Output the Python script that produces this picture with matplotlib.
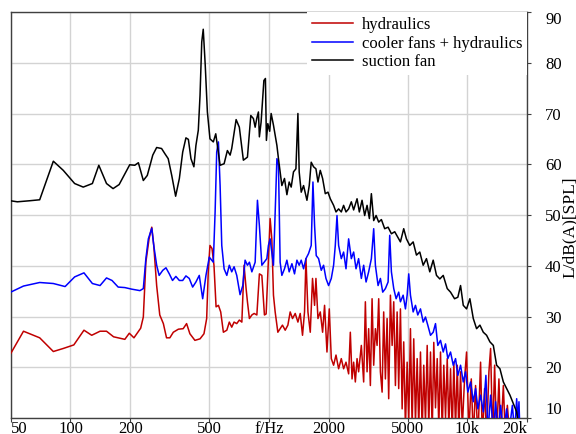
import matplotlib
matplotlib.use("Agg")
import matplotlib.pyplot as plt
from matplotlib.ticker import NullLocator, FixedLocator

plt.rcParams['font.family'] = ['Liberation Serif', 'DejaVu Serif']
plt.rcParams['font.size'] = 12

# ---------------- data ----------------
# suction fan (black)
f_suction = [50, 54, 62, 70, 82, 92, 105, 116, 129, 139, 152, 164, 176, 199, 211, 220,
             233, 244, 260, 272, 288, 299, 311, 324, 339, 354, 368, 382, 393, 405, 419,
             429, 441, 450, 459, 467, 478, 490, 505, 525, 540, 550, 568, 595, 618, 638,
             650, 684, 710, 744, 780, 811, 836, 853, 870, 886, 896, 914, 944, 961, 972,
             988, 1010, 1027, 1055, 1098, 1118, 1163, 1199, 1233, 1266, 1296, 1331, 1369,
             1401, 1422, 1456, 1496, 1556, 1598, 1635, 1680, 1727, 1768, 1816, 1866, 1925,
             1986, 2040, 2120, 2180, 2247, 2318, 2381, 2448, 2524, 2604, 2675, 2783, 2858,
             2949, 3040, 3126, 3211, 3286, 3376, 3471, 3578, 3691, 3836, 3990, 4146, 4309,
             4483, 4604, 4783, 4936, 5130, 5337, 5545, 5763, 5995, 6229, 6473, 6734, 6997,
             7272, 7565, 7925, 8235, 8628, 8965, 9251, 9546, 9919, 10307, 10723, 11140,
             11580, 12045, 12513, 13006, 13530, 14056, 14610, 15200, 15790, 16410, 17075,
             17740, 18200]
L_suction = [52.8, 52.6, 52.8, 53.0, 60.6, 58.8, 56.2, 55.5, 56.2, 59.8, 56.2, 55.2, 56.0,
             59.9, 59.8, 60.3, 56.8, 57.8, 61.8, 63.3, 63.1, 62.1, 61.1, 57.8, 53.7, 57.2,
             62.4, 65.2, 64.9, 61.1, 59.5, 63.7, 66.7, 73.6, 84.1, 86.6, 79.5, 70.3, 65.0,
             64.4, 66.0, 63.7, 59.8, 60.1, 62.7, 61.8, 63.1, 68.8, 67.3, 60.8, 61.4, 69.6,
             69.0, 67.3, 69.1, 70.3, 65.4, 68.3, 76.5, 76.9, 64.7, 68.0, 66.5, 70.0, 67.7,
             63.7, 61.1, 55.8, 57.2, 54.0, 56.5, 55.5, 58.5, 59.1, 70.0, 58.5, 54.5, 55.8,
             52.9, 55.8, 60.4, 59.5, 59.1, 56.5, 58.8, 57.2, 54.2, 54.5, 53.2, 51.9, 50.6,
             51.2, 50.6, 51.9, 50.6, 51.2, 52.6, 51.0, 53.2, 50.6, 52.9, 49.9, 51.9, 49.3,
             54.2, 48.9, 49.9, 48.6, 49.1, 47.3, 47.6, 46.3, 46.7, 45.5, 44.7, 47.3, 45.3,
             44.0, 44.7, 42.1, 42.7, 40.1, 41.4, 38.8, 41.1, 38.1, 37.4, 38.1, 35.5, 34.8,
             33.5, 33.8, 36.1, 32.2, 31.5, 33.5, 29.6, 27.6, 28.3, 26.9, 26.3, 25.0, 24.3,
             20.4, 19.7, 17.1, 15.8, 14.5, 12.8, 11.2, 8.0]

# cooler fans + hydraulics (blue)
f_cooler = [50, 58, 70, 82, 94, 105, 117, 129, 141, 152, 162, 174, 188, 203, 224, 233,
            240, 247, 257, 263, 272, 280, 292, 303, 315, 327, 340, 354, 368, 382, 397,
            413, 429, 446, 464, 482, 501, 515, 525, 536, 546, 557, 568, 579, 595, 614,
            632, 650, 668, 689, 716, 739, 759, 780, 798, 821, 853, 876, 896, 922, 947,
            977, 995, 1015, 1035, 1055, 1076, 1098, 1118, 1140, 1163, 1199, 1233, 1266,
            1307, 1347, 1385, 1422, 1456, 1496, 1538, 1585, 1635, 1668, 1700, 1733, 1781,
            1837, 1887, 1940, 2000, 2064, 2120, 2162, 2205, 2247, 2318, 2381, 2448, 2524,
            2604, 2675, 2750, 2834, 2925, 3005, 3090, 3184, 3286, 3376, 3443, 3552, 3649,
            3749, 3867, 3990, 4066, 4146, 4260, 4380, 4513, 4604, 4751, 4880, 4977, 5070,
            5172, 5337, 5482, 5630, 5810, 5995, 6157, 6324, 6526, 6734, 6917, 7104, 7331,
            7565, 7770, 7980, 8235, 8498, 8728, 8965, 9251, 9546, 9805, 10070, 10390,
            10723, 11012, 11312, 11670, 12045, 12414, 12707, 13110, 13530, 13895, 14274,
            14727, 15200, 15790, 16220, 16877, 17330, 17740, 18010, 18220, 18500]
L_cooler = [34.8, 36.0, 36.7, 36.5, 35.9, 37.8, 38.6, 36.5, 36.1, 37.6, 37.1, 35.8, 35.7,
            35.4, 35.1, 35.5, 41.4, 45.3, 47.4, 44.0, 40.1, 38.1, 39.1, 39.6, 38.4, 37.1,
            37.9, 37.1, 37.1, 38.0, 37.5, 35.8, 36.8, 38.1, 33.5, 38.1, 41.7, 41.1, 40.7,
            50.6, 62.4, 64.4, 55.8, 44.0, 39.4, 38.1, 40.1, 38.8, 39.8, 38.1, 34.3, 36.1,
            41.1, 40.1, 40.7, 38.8, 40.7, 52.9, 47.9, 40.1, 40.7, 41.4, 44.0, 45.3, 42.7,
            40.1, 50.6, 61.1, 59.8, 40.7, 38.1, 39.4, 41.1, 38.8, 40.4, 38.4, 41.1, 40.1,
            41.1, 39.4, 41.4, 42.4, 44.0, 56.5, 47.9, 42.0, 41.4, 39.1, 40.1, 37.5, 36.1,
            37.5, 40.1, 44.0, 49.9, 44.0, 41.4, 42.7, 39.4, 45.3, 41.4, 42.7, 39.4, 41.4,
            37.5, 40.1, 36.8, 38.8, 41.4, 47.3, 40.1, 36.1, 37.5, 34.8, 35.5, 36.8, 46.0,
            38.8, 35.5, 33.5, 34.8, 32.9, 34.2, 31.5, 34.2, 38.4, 34.2, 30.9, 32.2, 30.3,
            31.5, 28.9, 29.9, 28.3, 26.3, 26.9, 28.6, 24.3, 25.3, 23.0, 24.6, 21.7, 23.0,
            20.4, 21.7, 18.4, 20.4, 17.1, 19.1, 15.1, 17.1, 13.2, 15.8, 11.8, 14.5, 11.2,
            18.4, 7.0, 14.5, 7.0, 13.2, 7.0, 12.5, 7.0, 11.8, 7.0, 12.5, 7.0, 13.8, 9.0,
            13.2, 5.0]

# hydraulics (red)
f_hydr = [50, 58, 70, 82, 92, 104, 117, 128, 141, 152, 165, 188, 198, 209, 226, 233, 240,
          249, 257, 263, 272, 282, 294, 305, 317, 330, 350, 370, 385, 400, 424, 450, 471,
          486, 495, 505, 517, 529, 542, 557, 572, 590, 614, 632, 650, 668, 689, 710, 731,
          750, 768, 780, 798, 821, 843, 870, 896, 922, 950, 969, 988, 1015, 1035, 1055,
          1076, 1110, 1140, 1171, 1209, 1247, 1281, 1316, 1358, 1401, 1439, 1478, 1513,
          1538, 1574, 1617, 1660, 1700, 1727, 1768, 1816, 1866, 1909, 1963, 2016, 2064,
          2120, 2180, 2247, 2318, 2381, 2448, 2524, 2574, 2626, 2675, 2728, 2783, 2834,
          2925, 3005, 3065, 3126, 3184, 3248, 3313, 3376, 3443, 3511, 3578, 3649, 3722,
          3791, 3867, 3944, 4018, 4099, 4181, 4260, 4344, 4431, 4513, 4604, 4696, 4783,
          4880, 4977, 5070, 5172, 5275, 5373, 5482, 5591, 5695, 5810, 5926, 6036, 6157,
          6281, 6397, 6526, 6657, 6780, 6917, 7055, 7186, 7331, 7478, 7616, 7770, 7925,
          8072, 8235, 8400, 8556, 8728, 8903, 9068, 9251, 9436, 9690, 9919, 10188, 10476,
          10723, 11012, 11312, 11670, 11906, 12227, 12513, 12856, 13110, 13420, 13735,
          14056, 14440, 14727, 15200, 15565, 15923, 16410]
L_hydr = [22.7, 27.1, 25.8, 23.1, 23.7, 24.4, 27.3, 26.3, 27.1, 27.1, 26.0, 25.5, 26.7,
          25.8, 27.7, 29.9, 40.7, 45.3, 47.6, 44.0, 36.1, 30.3, 28.6, 25.8, 25.8, 26.9,
          27.5, 27.6, 28.6, 26.6, 25.3, 25.6, 26.6, 29.6, 38.8, 44.0, 43.4, 40.1, 31.9,
          32.2, 30.9, 26.9, 27.3, 28.9, 27.9, 28.9, 28.6, 29.3, 28.9, 40.1, 35.5, 32.9,
          29.6, 30.3, 30.6, 30.3, 38.4, 38.1, 30.3, 30.5, 38.5, 49.3, 45.3, 34.2, 30.9,
          26.9, 27.6, 28.3, 27.3, 28.3, 30.9, 29.6, 30.6, 28.9, 30.6, 26.3, 30.9, 41.4,
          30.9, 26.9, 37.5, 32.2, 37.5, 29.6, 30.9, 26.9, 32.2, 23.0, 31.5, 21.7, 20.4,
          22.4, 19.7, 21.7, 19.7, 21.0, 18.7, 26.9, 17.7, 21.0, 17.1, 21.7, 19.1, 24.3,
          17.1, 32.9, 19.1, 27.6, 16.4, 33.5, 20.4, 27.6, 24.3, 33.5, 19.1, 15.1, 30.9,
          17.7, 29.6, 13.8, 34.2, 24.3, 32.9, 16.4, 30.9, 15.8, 31.5, 11.8, 25.0, 8.0,
          21.0, 9.0, 27.6, 8.0, 25.6, 9.0, 21.7, 8.0, 23.0, 7.0, 20.4, 9.0, 24.3, 8.0,
          23.0, 7.0, 24.9, 12.0, 21.7, 8.0, 23.0, 7.0, 20.4, 10.0, 21.7, 8.0, 19.7, 7.0,
          21.0, 8.0, 20.4, 7.0, 19.1, 8.0, 17.7, 23.0, 7.0, 17.7, 6.0, 16.4, 6.0, 21.0,
          6.0, 15.8, 6.0, 19.1, 23.7, 6.0, 20.4, 6.0, 17.7, 6.0, 16.4, 6.0, 12.5, 6.0]

x_ticks = [50, 100, 200, 500, 1000, 2000, 5000, 10000, 20000]
x_labels = ['50', '100', '200', '500', 'f/Hz', '2000', '5000', '10k', '20k']
y_ticks = [10, 20, 30, 40, 50, 60, 70, 80, 90]

# ---------------- figure ----------------
fig = plt.figure(figsize=(5.76, 4.34), dpi=100)
ax = fig.add_axes([10.7 / 576, 1 - 418 / 434, (527 - 10.7) / 576, (418 - 12) / 434])

ax.plot(f_hydr, L_hydr, color='#c00000', lw=1.1, label='hydraulics', zorder=3)
ax.plot(f_cooler, L_cooler, color='#0000ff', lw=1.1, label='cooler fans + hydraulics', zorder=4)
ax.plot(f_suction, L_suction, color='#000000', lw=1.1, label='suction fan', zorder=5)

ax.set_xscale('log')
ax.set_xlim(50, 20000)
ax.set_ylim(10, 90)
ax.xaxis.set_major_locator(FixedLocator(x_ticks))
ax.xaxis.set_minor_locator(NullLocator())
ax.set_xticklabels(x_labels)
ax.set_yticks(y_ticks)
ax.yaxis.tick_right()
ax.yaxis.set_label_position('right')
ax.set_ylabel('L/dB(A)[SPL]', fontsize=12.5)
ax.yaxis.set_label_coords(1.068, 0.47)

ax.tick_params(axis='x', direction='out', length=3, width=0.8, color='#404040', pad=-0.7)
ax.tick_params(axis='y', direction='out', length=3, width=0.8, color='#404040', pad=10)

xl = ax.get_xticklabels()
xl[0].set_horizontalalignment('left')
xl[-1].set_horizontalalignment('right')
yl = ax.get_yticklabels()
yl[0].set_verticalalignment('bottom')
yl[-1].set_verticalalignment('top')

ax.grid(True, color='#d3d3d3', lw=1.0)
ax.set_axisbelow(True)
for s in ax.spines.values():
    s.set_color('#404040')
    s.set_linewidth(1.0)

leg = ax.legend(loc='upper right', bbox_to_anchor=(1.0, 1.0), frameon=True,
                fancybox=False, edgecolor='none', facecolor='white', framealpha=1.0,
                handlelength=2.5, handletextpad=0.5, labelspacing=0.15,
                borderaxespad=0.0, borderpad=0.3, fontsize=12)
leg.set_zorder(10)

fig.savefig('out.png', dpi=100)
